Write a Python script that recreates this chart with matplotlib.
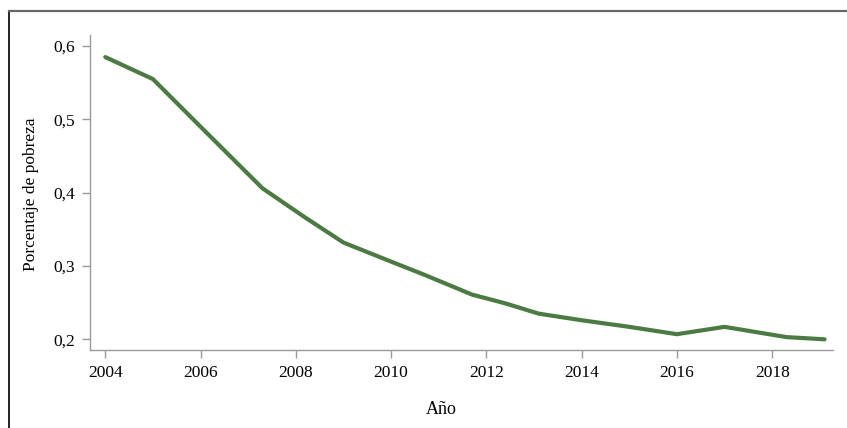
import numpy as np
import matplotlib.pyplot as plt
from matplotlib.lines import Line2D
from matplotlib.ticker import FuncFormatter

plt.rcParams['font.family'] = ['Liberation Serif', 'DejaVu Serif']

# data
anio = [2004.0, 2005.0, 2006.0, 2007.3, 2008.2, 2009.0, 2010.0, 2010.7,
        2011.7, 2012.4, 2013.1, 2014.0, 2015.0, 2016.0, 2017.0, 2018.3, 2019.1]
pobreza = [0.585, 0.555, 0.490, 0.406, 0.366, 0.332, 0.306, 0.288,
           0.261, 0.249, 0.235, 0.226, 0.217, 0.207, 0.217, 0.203, 0.200]

xticks = [2004, 2006, 2008, 2010, 2012, 2014, 2016, 2018]
yticks = [0.2, 0.3, 0.4, 0.5, 0.6]

fig = plt.figure(figsize=(8.47, 4.28), dpi=100)
ax = fig.add_axes([0.1063, 0.1822, 0.8768, 0.7358])

ax.plot(anio, pobreza, color='#4b7b43', linewidth=3.0, solid_capstyle='round')

ax.set_xlim(2003.68, 2019.27)
ax.set_ylim(0.1854, 0.615)
ax.set_xticks(xticks)
ax.set_yticks(yticks)
ax.yaxis.set_major_formatter(FuncFormatter(lambda v, p: f"{v:.1f}".replace('.', ',')))

for s in ['top', 'right']:
    ax.spines[s].set_visible(False)
for s in ['left', 'bottom']:
    ax.spines[s].set_color('#9a9a9a')
    ax.spines[s].set_linewidth(1.0)
ax.tick_params(color='#9a9a9a', length=5.5, width=1.0, labelsize=12.5, pad=5)

ax.set_xlabel('Año', fontsize=13, va='center')
ax.xaxis.set_label_coords(0.4724, -0.19)
ax.set_ylabel('Porcentaje de pobreza', fontsize=12.5, va='center')
ax.yaxis.set_label_coords(-0.079, 0.495)

# frame on the left and top of the figure
fig.add_artist(Line2D([8.5/847, 8.5/847], [0, 1 - 11/428], color='#222222', linewidth=1.4, transform=fig.transFigure))
fig.add_artist(Line2D([8.5/847, 1], [1 - 11/428, 1 - 11/428], color='#666666', linewidth=1.6, transform=fig.transFigure))

plt.savefig("out.png", dpi=100)
